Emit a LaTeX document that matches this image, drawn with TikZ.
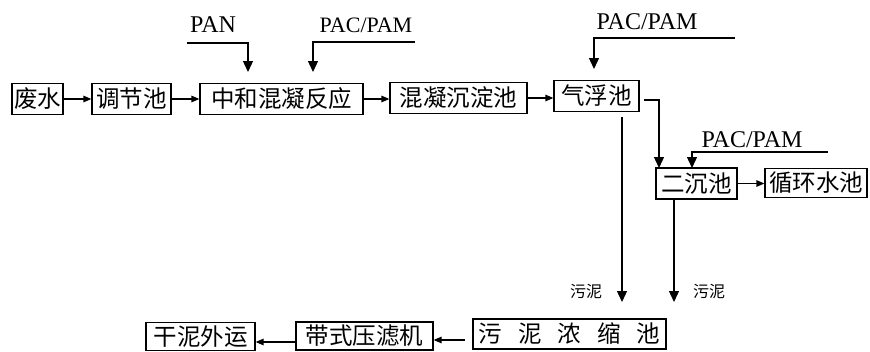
\documentclass[tikz,border=0pt]{standalone}
\usepackage{fontspec}
\setmainfont{Liberation Serif}
\newfontfamily\cjk{Noto Sans CJK SC}
\usetikzlibrary{arrows.meta}
\tikzset{
  box/.style={draw, line width=1.2pt, inner sep=0pt, minimum height=31pt,
    font=\cjk\fontsize{23.5}{23.5}\selectfont},
  flow/.style={line width=1.3pt, -{Triangle[length=8pt,width=6.5pt]}},
  feed/.style={line width=1.3pt, -{Triangle[length=11pt,width=10pt]}},
  chem/.style={font=\fontsize{24}{24}\selectfont, inner sep=0pt},
  sludge/.style={font=\cjk\fontsize{16}{16}\selectfont, inner sep=0pt}
}
\begin{document}
\begin{tikzpicture}[x=1pt,y=-1pt]
\useasboundingbox (0,0) rectangle (870,351);
% top row
\node[box, minimum width=51pt] (fs) at (37.5,99) {废水};
\node[box, minimum width=79pt] (tj) at (131.5,99) {调节池};
\node[box, minimum width=163pt] (zh) at (281.5,99) {中和混凝反应};
\node[box, minimum width=137pt] (hn) at (458.5,98) {混凝沉淀池};
\node[box, minimum width=85pt] (qf) at (596.5,96) {气浮池};
\node[box, minimum width=81pt] (ec) at (696.5,183.5) {二沉池};
\node[box, minimum width=102pt, minimum height=29pt] (xh) at (816,183) {循环水池};
% bottom row
\node[box, minimum width=193pt, minimum height=30pt] (wn) at (569.5,334) {污\hspace{16pt}泥\hspace{16pt}浓\hspace{16pt}缩\hspace{16pt}池};
\node[box, minimum width=137pt, minimum height=28pt] (dl) at (364.5,336) {带式压滤机};
\node[box, minimum width=109pt, minimum height=28pt] (gn) at (200.5,336.5) {干泥外运};
% main flow
\draw[flow] (fs.east) -- (tj.west);
\draw[flow] (tj.east) -- (zh.west);
\draw[flow] (zh.east) -- (hn.west |- zh.east);
\draw[flow] (hn.east) -- (qf.west |- hn.east);
\draw[flow] (ec.east) -- (xh.west |- ec.east);
% chemical feeds
\node[chem] (pan) at (213,25) {PAN};
\coordinate (panS) at (187,43);
\coordinate (panT) at (248,72);
\draw[feed] (panS) -| (panT);
\node[chem, font=\fontsize{22}{22}\selectfont] (pac1) at (366,25) {PAC/PAM};
\coordinate (pac1S) at (415,42);
\coordinate (pac1T) at (313,72);
\draw[feed] (pac1S) -| (pac1T);
\node[chem] (pac2) at (647,22) {PAC/PAM};
\coordinate (pac2S) at (735,38);
\coordinate (pac2T) at (594,69);
\draw[feed] (pac2S) -| (pac2T);
\node[chem] (pac3) at (752,140) {PAC/PAM};
\coordinate (pac3S) at (828,152);
\coordinate (pac3T) at (692,168);
\draw[feed] (pac3S) -| (pac3T);
% flotation to secondary settling
\coordinate (qfE) at (644,100);
\coordinate (ecN) at (659,168);
\draw[feed] (qfE) -| (ecN);
% sludge lines
\coordinate (qfB) at (622,117);
\coordinate (sl1) at (622,302);
\draw[feed] (qfB) -- (sl1);
\coordinate (sl2) at (674,302);
\draw[feed] (ec.south -| sl2) -- (sl2);
\node[sludge] (lb1) at (586,292) {污泥};
\node[sludge] (lb2) at (709,292) {污泥};
% bottom flow
\coordinate (wnW) at (465,340);
\draw[flow] (wnW) -- (dl.east |- wnW);
\coordinate (dlW) at (289,342);
\draw[flow] (dl.west |- dlW) -- (gn.east |- dlW);
\end{tikzpicture}
\end{document}
